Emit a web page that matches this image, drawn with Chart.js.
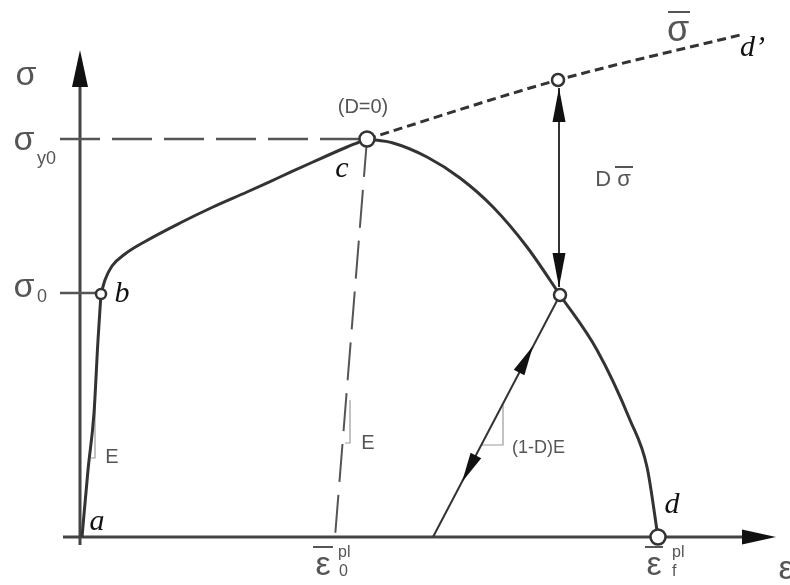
<!DOCTYPE html>
<html>
<head>
<meta charset="utf-8">
<script src="https://cdn.jsdelivr.net/npm/chart.js@4.4.1/dist/chart.umd.min.js"></script>
<style>
  body { margin: 0; background: #fff; }
  canvas { display: block; }
</style>
</head>
<body>
<canvas id="chart" width="790" height="585"></canvas>
<script>
// strain (x) / stress (y) in diagram units, origin at point a
var elasticAB   = [[2, 0], [8, 67], [14, 124], [18, 197], [21, 243]];
var hardeningBC = [[21, 243], [25, 257], [32, 271], [45, 283], [66, 296], [100, 314], [133, 330], [167, 345], [200, 360], [233, 375], [267, 390], [287, 398]];
var softeningCD = [[287, 398], [313, 394], [347, 380], [380, 359], [413, 330], [447, 290], [480, 242], [517, 187], [550, 117], [567, 70], [578, 0]];
var effectiveCurve = [[287, 398], [478, 457], [660, 502]];
var unloadE     = [[287, 398], [255, 0]];
var unloadDamaged = [[353, 0], [480, 242]];
var damageGap   = [[479, 449], [479, 250]];
var yieldLevel  = [[-20, 398], [287, 398]];
var sigma0Tick  = [[-20, 244], [16, 244]];
var yAxisLine   = [[0, -8], [0, 452]];
var xAxisLine   = [[-17, 0], [668, 0]];
var slopeA      = [[15, 137], [15, 79], [11, 79]];
var slopeC      = [[270, 137], [270, 94], [265, 94]];
var slopeD      = [[423, 132], [423, 92], [402, 92]];
var markers     = [[21, 243], [287, 398], [478, 457], [480, 242], [578, 0]];
var markerSize  = [5, 7.5, 6, 6, 7.5];

// arrowheads: tip, a point behind it on the same line
var arrows = [
  { tip: [0, 487], back: [0, 0], len: 37, half: 8 },
  { tip: [696, 0], back: [0, 0], len: 34, half: 7.5 },
  { tip: [479, 449], back: [479, 250], len: 34, half: 6.5 },
  { tip: [479, 250], back: [479, 449], len: 34, half: 6.5 },
  { tip: [453, 191], back: [353, 0], len: 30, half: 6 },
  { tip: [382, 55], back: [480, 242], len: 30, half: 6 }
];

var sans = '"Liberation Sans", Arial, sans-serif';
var serif = '"Liberation Serif", "Times New Roman", serif';
var texts = [
  { t: 'σ', x: -54, y: 461, size: 34, f: sans },
  { t: 'σ', x: -56, y: 396, size: 34, f: sans },
  { t: 'y0', x: -43, y: 378, size: 18, f: sans, align: 'left' },
  { t: 'σ', x: -56, y: 249, size: 34, f: sans },
  { t: '0', x: -43, y: 240, size: 18, f: sans, align: 'left' },
  { t: 'b', x: 42, y: 243, size: 30, f: serif, it: true },
  { t: '(D=0)', x: 283, y: 430, size: 20, f: sans },
  { t: 'c', x: 262, y: 368, size: 30, f: serif, it: true },
  { t: 'D σ', x: 533, y: 357, size: 22, f: sans },
  { t: 'σ', x: 598, y: 506, size: 36, f: sans },
  { t: 'd’', x: 660, y: 489, size: 30, f: serif, it: true, align: 'left' },
  { t: 'a', x: 17, y: 15, size: 30, f: serif, it: true },
  { t: 'd', x: 592, y: 32, size: 30, f: serif, it: true },
  { t: 'E', x: 32, y: 80, size: 20, f: sans },
  { t: 'E', x: 288, y: 94, size: 20, f: sans },
  { t: '(1-D)E', x: 432, y: 89, size: 18, f: sans, align: 'left' },
  { t: 'ε', x: 243, y: -29, size: 34, f: sans },
  { t: 'pl', x: 258, y: -16, size: 16, f: sans, align: 'left' },
  { t: '0', x: 259, y: -35, size: 16, f: sans, align: 'left' },
  { t: 'ε', x: 574, y: -29, size: 34, f: sans },
  { t: 'pl', x: 592, y: -16, size: 16, f: sans, align: 'left' },
  { t: 'f', x: 592, y: -35, size: 16, f: sans, align: 'left' },
  { t: 'ε', x: 706, y: -33, size: 34, f: sans }
];
// bars over the effective quantities
var overlines = [
  [535, 553, 370], [588, 610, 525], [233, 253, -10], [565, 583, -10]
];

function pts(arr) {
  return arr.map(function (p) { return { x: p[0], y: p[1] }; });
}

function line(arr, color, width, dash, smooth) {
  return {
    data: pts(arr),
    showLine: true,
    borderColor: color,
    borderWidth: width,
    borderDash: dash || [],
    cubicInterpolationMode: smooth ? 'monotone' : 'default',
    tension: smooth ? 0.4 : 0,
    pointRadius: 0,
    fill: false
  };
}

var annotate = {
  id: 'annotate',
  afterDatasetsDraw: function (chart) {
    var c = chart.ctx;
    var xs = chart.scales.x, ys = chart.scales.y;
    c.save();

    arrows.forEach(function (a) {
      var tx = xs.getPixelForValue(a.tip[0]), ty = ys.getPixelForValue(a.tip[1]);
      var bx = xs.getPixelForValue(a.back[0]), by = ys.getPixelForValue(a.back[1]);
      var d = Math.hypot(tx - bx, ty - by);
      var ux = (tx - bx) / d, uy = (ty - by) / d;
      var baseX = tx - ux * a.len, baseY = ty - uy * a.len;
      c.fillStyle = '#111';
      c.beginPath();
      c.moveTo(tx, ty);
      c.lineTo(baseX - uy * a.half, baseY + ux * a.half);
      c.lineTo(baseX + uy * a.half, baseY - ux * a.half);
      c.closePath();
      c.fill();
    });

    texts.forEach(function (s) {
      c.font = (s.it ? 'italic ' : '') + s.size + 'px ' + s.f;
      c.fillStyle = s.it ? '#111' : '#555';
      c.textAlign = s.align || 'center';
      c.textBaseline = 'middle';
      c.fillText(s.t, xs.getPixelForValue(s.x), ys.getPixelForValue(s.y));
    });

    c.strokeStyle = '#555';
    c.lineWidth = 2;
    overlines.forEach(function (o) {
      var yy = ys.getPixelForValue(o[2]);
      c.beginPath();
      c.moveTo(xs.getPixelForValue(o[0]), yy);
      c.lineTo(xs.getPixelForValue(o[1]), yy);
      c.stroke();
    });
    c.restore();
  }
};

var ink = '#333';
var faint = '#9a9a9a';

new Chart(document.getElementById('chart'), {
  type: 'scatter',
  data: {
    datasets: [
      {
        data: pts(markers),
        showLine: false,
        pointRadius: markerSize,
        pointBackgroundColor: '#fff',
        pointBorderColor: ink,
        pointBorderWidth: 2.5
      },
      line(elasticAB, ink, 3, null, true),
      line(hardeningBC, ink, 3, null, true),
      line(softeningCD, ink, 3, null, true),
      line(effectiveCurve, ink, 3, [9, 5], true),
      line(unloadE, '#555', 2, [38, 13]),
      line(yieldLevel, '#555', 2.5, [40, 12]),
      line(sigma0Tick, '#555', 2.5),
      line(unloadDamaged, ink, 2),
      line(damageGap, ink, 2),
      line(yAxisLine, '#444', 3),
      line(xAxisLine, '#444', 3),
      line(slopeA, faint, 1.2),
      line(slopeC, faint, 1.2),
      line(slopeD, faint, 1.2)
    ]
  },
  options: {
    responsive: false,
    animation: false,
    layout: { padding: 0, autoPadding: false },
    plugins: { legend: { display: false }, tooltip: { enabled: false } },
    scales: {
      x: { type: 'linear', min: -80, max: 710, display: false },
      y: { type: 'linear', min: -48, max: 537, display: false }
    }
  },
  plugins: [annotate]
});
</script>
</body>
</html>
